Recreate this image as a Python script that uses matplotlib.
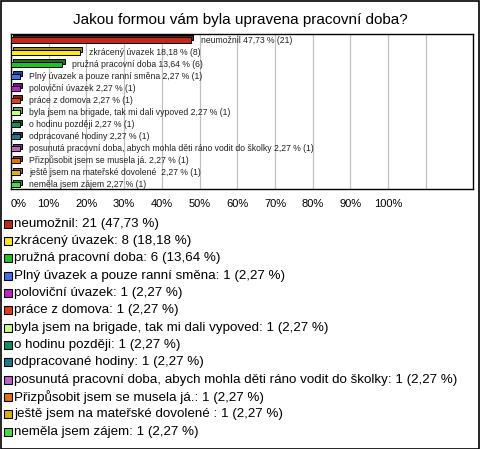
import matplotlib
matplotlib.use("agg")
import matplotlib.pyplot as plt
import matplotlib.colors as mcolors
from matplotlib.patches import Rectangle
from matplotlib.transforms import offset_copy

plt.rcParams.update({"font.family": ["Liberation Sans", "DejaVu Sans"]})

# ---- data ----
labels = [
    "neumožnil", "zkrácený úvazek", "pružná pracovní doba",
    "Plný úvazek a pouze ranní směna", "poloviční úvazek", "práce z domova",
    "byla jsem na brigade, tak mi dali vypoved", "o hodinu později",
    "odpracované hodiny",
    "posunutá pracovní doba, abych mohla děti ráno vodit do školky",
    "Přizpůsobit jsem se musela já.", "ještě jsem na mateřské dovolené ",
    "neměla jsem zájem",
]
counts = [21, 8, 6, 1, 1, 1, 1, 1, 1, 1, 1, 1, 1]
pcts = [47.73, 18.18, 13.64, 2.27, 2.27, 2.27, 2.27, 2.27, 2.27, 2.27, 2.27, 2.27, 2.27]
colors = ["#c0281c", "#ffe81a", "#22c022", "#4070f0", "#c020d0", "#e04010",
          "#c8ff80", "#109060", "#207890", "#c060c8", "#e07010", "#e0b000",
          "#40e040"]
xticks = [0, 10, 20, 30, 40, 50, 60, 70, 80, 90, 100]
title = "Jakou formou vám byla upravena pracovní doba?"


def pct(v):
    return ("%.2f" % v).replace(".", ",")


def darker(c, f=0.6):
    r, g, b = mcolors.to_rgb(c)
    return (r * f, g * f, b * f)


W, H = 480, 449
fig = plt.figure(figsize=(W / 100, H / 100), dpi=100)
fig.patches.append(Rectangle((0.5 / W, 0.5 / H), 1 - 1.5 / W, 1 - 1.5 / H,
                             transform=fig.transFigure, fill=False,
                             edgecolor="black", lw=1.2))
fig.text(0.5, 1 - 20 / H, title, ha="center", va="center", fontsize=11)

# plot area in pixels: x 11..473, y 34..189
ax = fig.add_axes([11 / W, 1 - 189 / H, (473 - 11) / W, (189 - 34) / H])
n = len(labels)
y = list(range(n))
# back face for a simple 3D look
shift = offset_copy(ax.transData, fig=fig, x=1.6, y=1.6, units="points")
ax.barh(y, pcts, height=0.42, color=[darker(c) for c in colors],
        edgecolor="black", lw=0.7, zorder=3, transform=shift)
ax.barh(y, pcts, height=0.42, color=colors, edgecolor="black", lw=0.7, zorder=4)
for i, (p, c, l) in enumerate(zip(pcts, counts, labels)):
    ax.annotate("%s %s %% (%d)" % (l, pct(p), c), (p, i), xytext=(7, 0),
                textcoords="offset points", va="center", fontsize=6.2,
                color="#222", zorder=5)
ax.set_xlim(0, 122.5)
ax.set_ylim(n - 0.62, -0.5)
ax.set_xticks(xticks + [110])
ax.set_xticklabels(["%d%%" % t for t in xticks] + [""], fontsize=8)
ax.get_xticklabels()[0].set_ha("left")
ax.tick_params(axis="x", length=0, pad=7)
ax.set_yticks([])
ax.grid(axis="x", color="#c0c0c0", lw=0.9, zorder=0)
for s in ax.spines.values():
    s.set_linewidth(1.0)

# legend
for i, (l, c, p, col) in enumerate(zip(labels, counts, pcts, colors)):
    yc = 223.5 + i * 17.35
    fig.patches.append(Rectangle((4 / W, 1 - (yc + 4) / H), 8 / W, 8 / H,
                                 transform=fig.transFigure, facecolor=col,
                                 edgecolor="black", lw=0.8))
    fig.text(14.5 / W, 1 - yc / H, "%s: %d (%s %%)" % (l, c, pct(p)),
             ha="left", va="center", fontsize=9.6)

fig.savefig("out.png", dpi=100)
